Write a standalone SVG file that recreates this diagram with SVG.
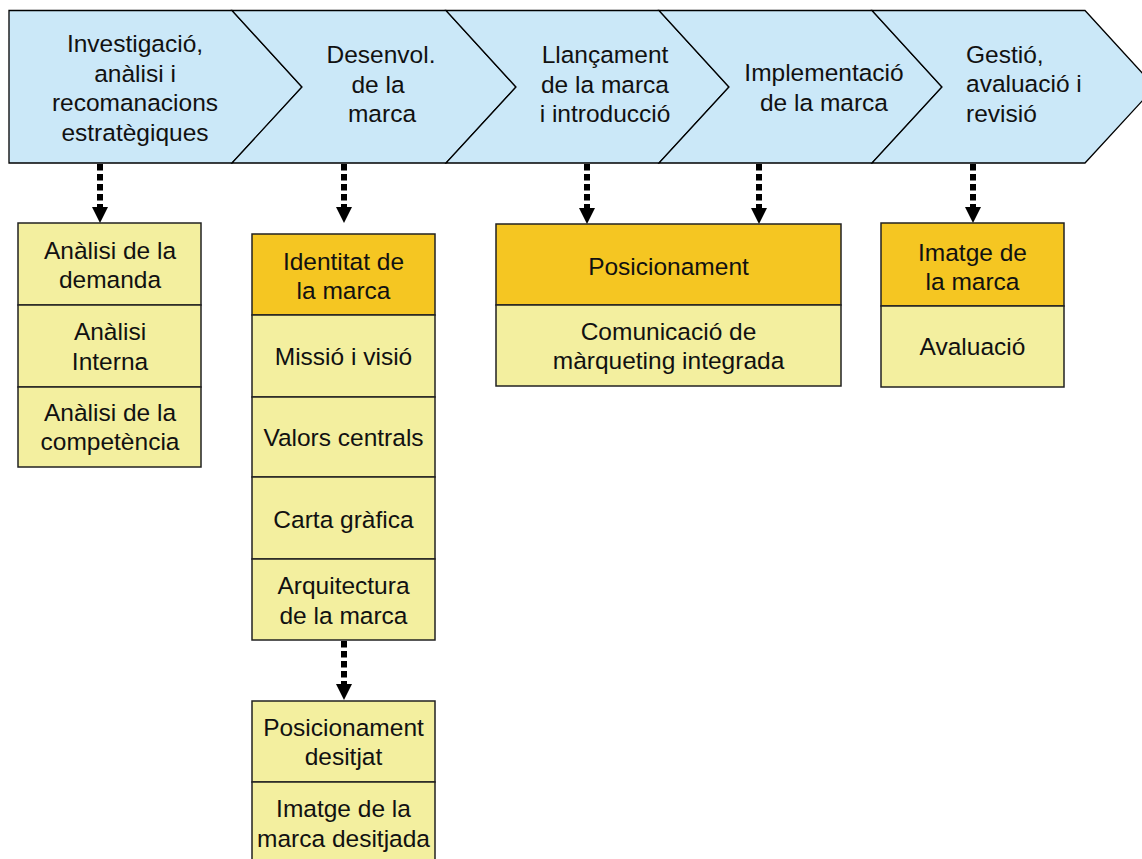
<svg xmlns="http://www.w3.org/2000/svg" width="1142" height="859" viewBox="0 0 1142 859">
  <style>
    .chev { fill: #CBE8F8; stroke: #000; stroke-width: 1.3; stroke-linejoin: miter; }
    .box { stroke: #222; stroke-width: 1.5; }
    .hdr { fill: #F5C622; }
    .itm { fill: #F3EF9F; }
    .t { font-family: "Liberation Sans", Arial, sans-serif; font-size: 24.5px; fill: #111; text-anchor: middle; }
    .ts { text-anchor: start; }
    .link { fill: none; stroke: #000; stroke-width: 6; stroke-dasharray: 6.5 3.5; }
  </style>
  <defs>
    <!-- arrowhead drawn along +x, anchored at its base so the dotted line stops behind it -->
    <marker id="head" markerUnits="userSpaceOnUse" markerWidth="18" markerHeight="18" viewBox="0 0 18 18" refX="0" refY="9" orient="auto">
      <polygon points="0,1 16,9 0,17" fill="#000"/>
    </marker>
  </defs>

  <!-- process chevrons -->
  <g id="stage-research">
    <polygon class="chev" points="9,10.5 232,10.5 302,87 232,163 9,163"/>
    <text class="t" x="135" y="52">Investigació,</text>
    <text class="t" x="135" y="81.5">anàlisi i</text>
    <text class="t" x="135" y="111">recomanacions</text>
    <text class="t" x="135" y="140.5">estratègiques</text>
  </g>
  <g id="stage-development">
    <polygon class="chev" points="232,10.5 446,10.5 516,87 446,163 232,163 302,87"/>
    <text class="t" x="381" y="63">Desenvol.</text>
    <text class="t" x="378" y="92.5">de la</text>
    <text class="t" x="382" y="122">marca</text>
  </g>
  <g id="stage-launch">
    <polygon class="chev" points="446,10.5 659,10.5 729,87 659,163 446,163 516,87"/>
    <text class="t" x="605" y="63">Llançament</text>
    <text class="t" x="605" y="92.5">de la marca</text>
    <text class="t" x="605" y="122">i introducció</text>
  </g>
  <g id="stage-implementation">
    <polygon class="chev" points="659,10.5 872,10.5 942,87 872,163 659,163 729,87"/>
    <text class="t" x="824" y="81">Implementació</text>
    <text class="t" x="824" y="110.5">de la marca</text>
  </g>
  <g id="stage-management">
    <polygon class="chev" points="872,10.5 1085,10.5 1155,87 1085,163 872,163 942,87"/>
    <text class="t ts" x="966" y="62.5">Gestió,</text>
    <text class="t ts" x="966" y="92">avaluació i</text>
    <text class="t ts" x="966" y="121.5">revisió</text>
  </g>

  <!-- dotted connectors -->
  <g id="connectors">
    <path class="link" d="M100,164 V207" marker-end="url(#head)"/>
    <path class="link" d="M344,164 V207" marker-end="url(#head)"/>
    <path class="link" d="M587,164 V208" marker-end="url(#head)"/>
    <path class="link" d="M759,164 V208" marker-end="url(#head)"/>
    <path class="link" d="M973,164 V207" marker-end="url(#head)"/>
    <path class="link" d="M344,641 V684" marker-end="url(#head)"/>
  </g>

  <!-- analysis stack -->
  <g id="analysis">
    <rect class="box itm" x="18" y="223" width="183" height="82"/>
    <rect class="box itm" x="18" y="305" width="183" height="82"/>
    <rect class="box itm" x="18" y="387" width="183" height="80"/>
    <text class="t" x="110" y="258.5">Anàlisi de la</text>
    <text class="t" x="110" y="288">demanda</text>
    <text class="t" x="110" y="340">Anàlisi</text>
    <text class="t" x="110" y="369.5">Interna</text>
    <text class="t" x="110" y="420.5">Anàlisi de la</text>
    <text class="t" x="110" y="449.5">competència</text>
  </g>

  <!-- brand identity stack -->
  <g id="identity">
    <rect class="box hdr" x="252" y="234" width="183" height="81"/>
    <rect class="box itm" x="252" y="315" width="183" height="82"/>
    <rect class="box itm" x="252" y="397" width="183" height="80"/>
    <rect class="box itm" x="252" y="477" width="183" height="82"/>
    <rect class="box itm" x="252" y="559" width="183" height="81"/>
    <text class="t" x="343.5" y="270">Identitat de</text>
    <text class="t" x="343.5" y="299">la marca</text>
    <text class="t" x="343.5" y="365">Missió i visió</text>
    <text class="t" x="343.5" y="446">Valors centrals</text>
    <text class="t" x="343.5" y="528">Carta gràfica</text>
    <text class="t" x="343.5" y="594">Arquitectura</text>
    <text class="t" x="343.5" y="623.5">de la marca</text>
  </g>

  <!-- desired positioning stack -->
  <g id="desired">
    <rect class="box itm" x="252" y="701" width="183" height="81"/>
    <rect class="box itm" x="252" y="782" width="183" height="82"/>
    <text class="t" x="343.5" y="735.5">Posicionament</text>
    <text class="t" x="343.5" y="765">desitjat</text>
    <text class="t" x="343.5" y="817">Imatge de la</text>
    <text class="t" x="343.5" y="847">marca desitjada</text>
  </g>

  <!-- positioning stack -->
  <g id="positioning">
    <rect class="box hdr" x="496" y="224" width="345" height="81"/>
    <rect class="box itm" x="496" y="305" width="345" height="81"/>
    <text class="t" x="668.5" y="274.5">Posicionament</text>
    <text class="t" x="668.5" y="340">Comunicació de</text>
    <text class="t" x="668.5" y="369">màrqueting integrada</text>
  </g>

  <!-- brand image stack -->
  <g id="image">
    <rect class="box hdr" x="881" y="223" width="183" height="83"/>
    <rect class="box itm" x="881" y="306" width="183" height="81"/>
    <text class="t" x="972.5" y="260.5">Imatge de</text>
    <text class="t" x="972.5" y="289.5">la marca</text>
    <text class="t" x="972.5" y="355">Avaluació</text>
  </g>
</svg>
